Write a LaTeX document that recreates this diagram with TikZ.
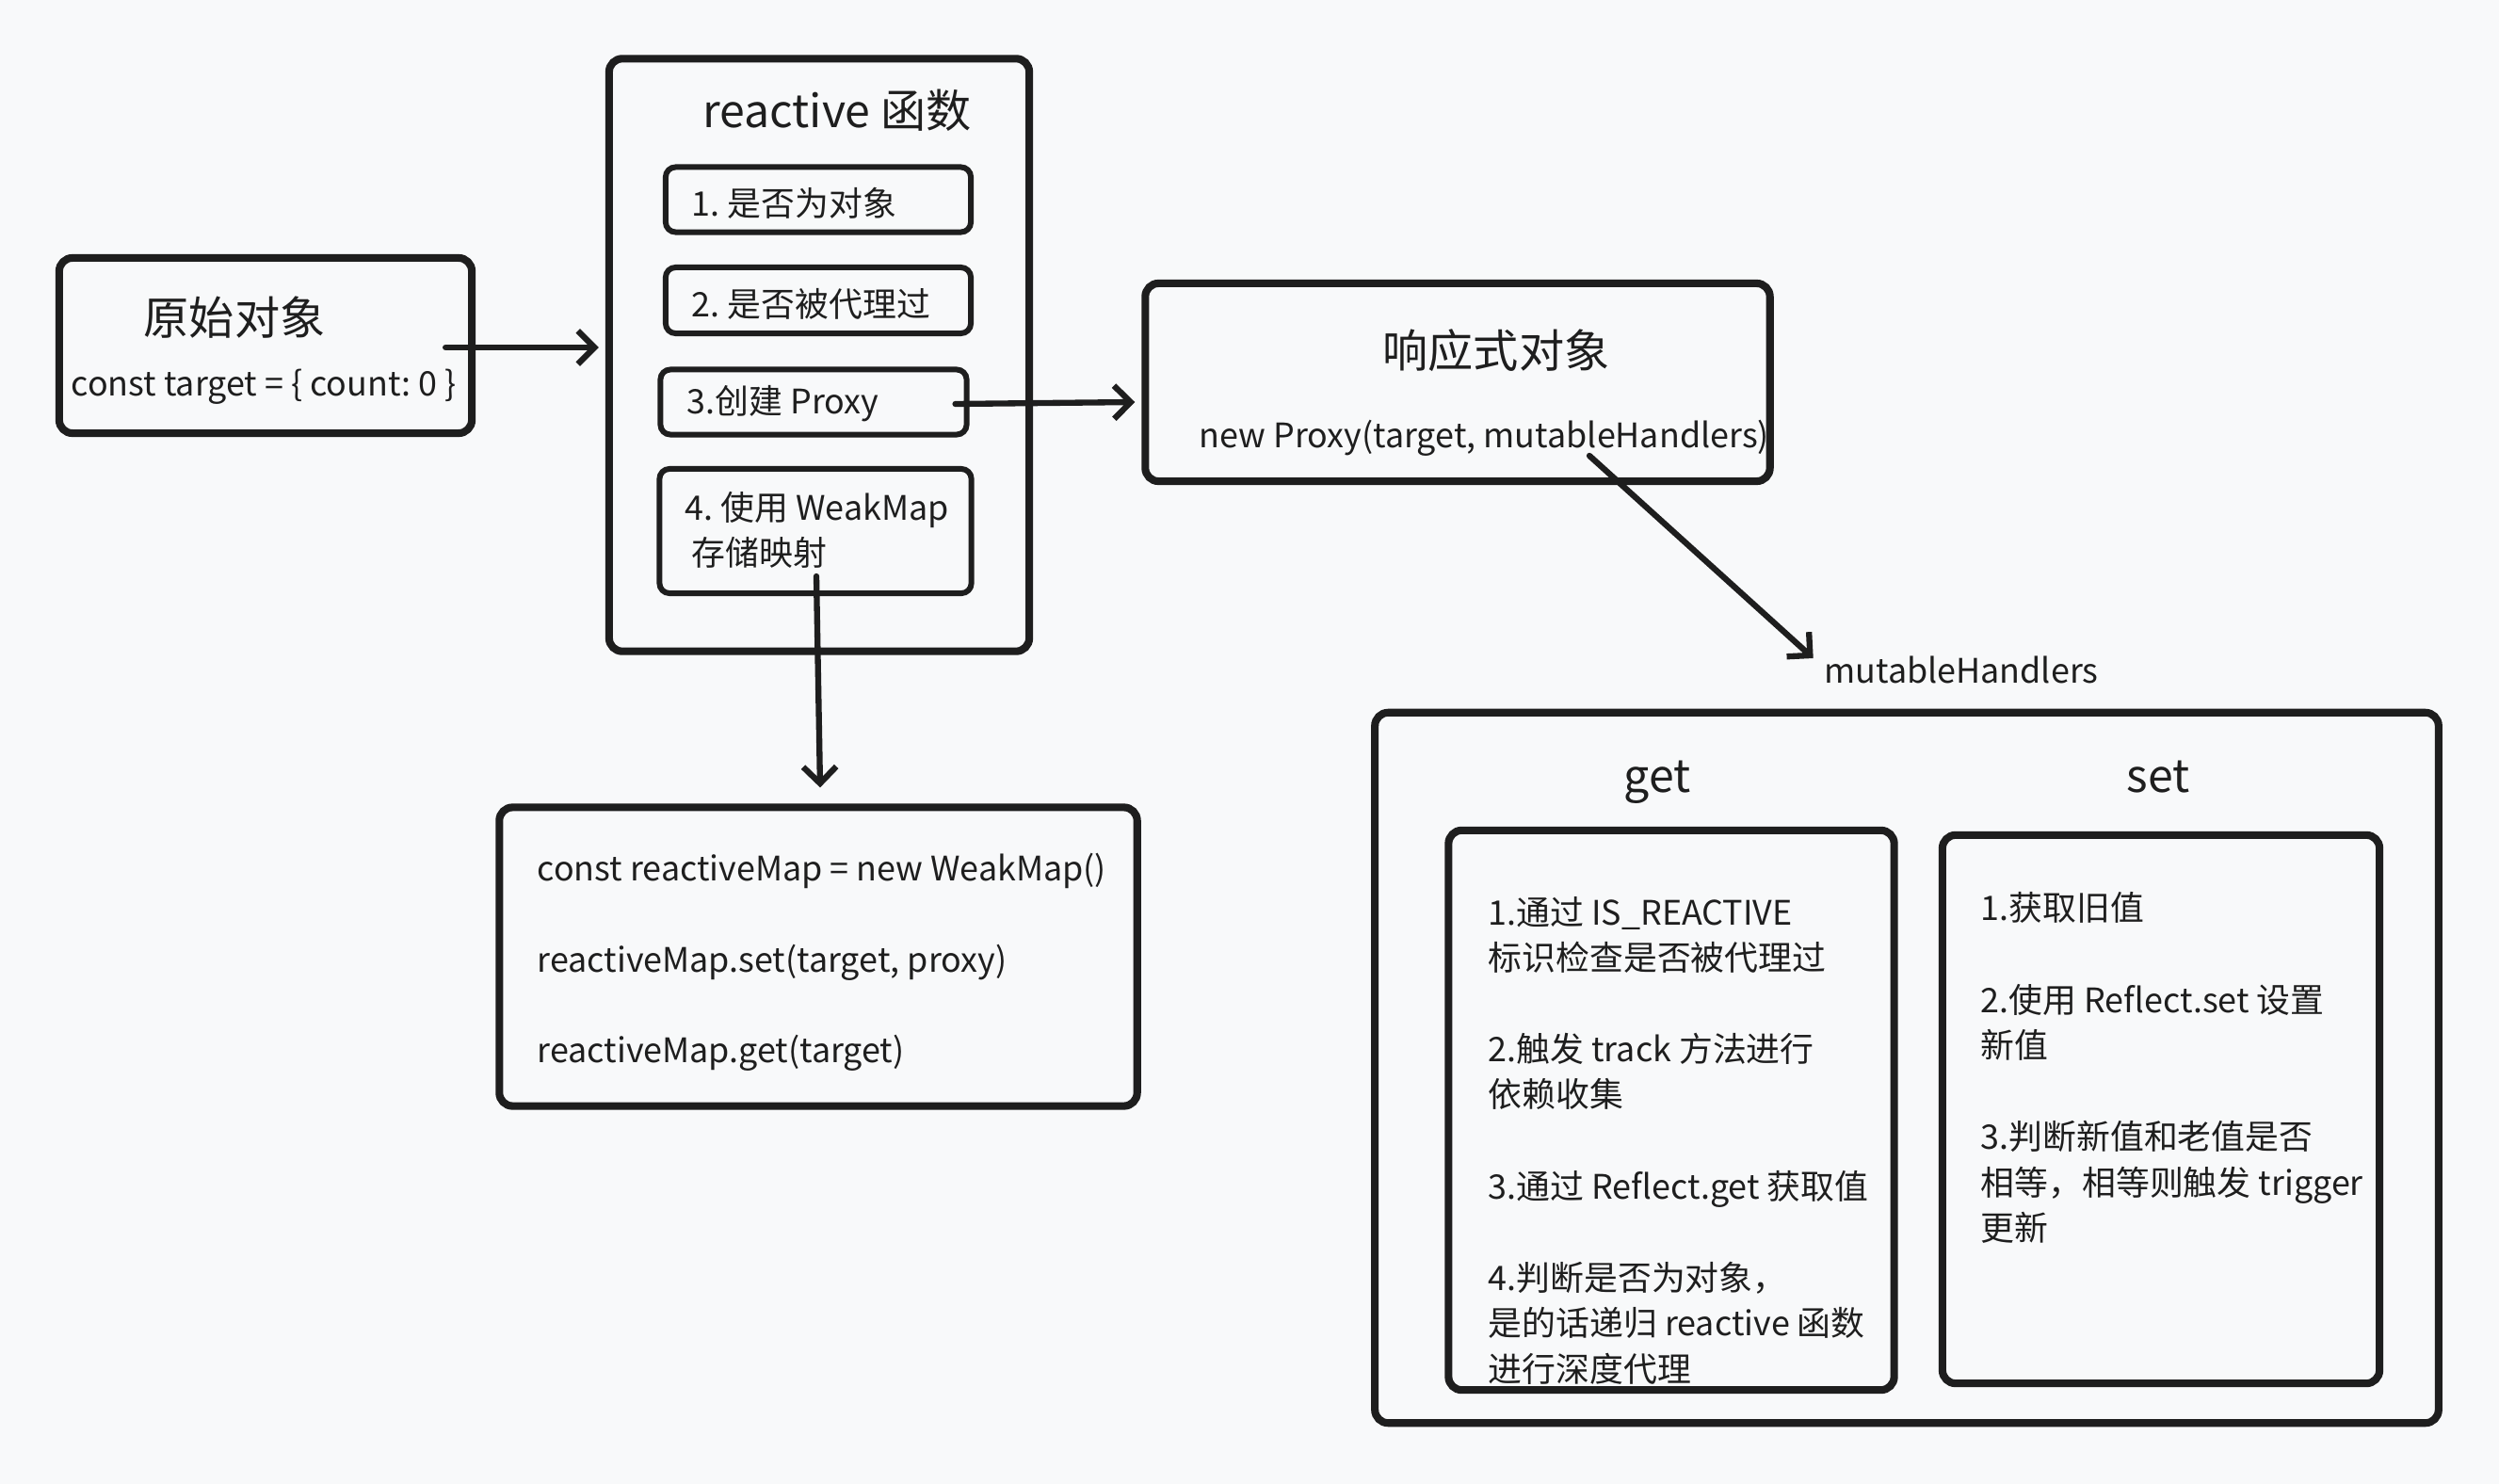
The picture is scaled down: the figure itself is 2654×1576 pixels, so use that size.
\documentclass[tikz,border=0pt]{standalone}
\usepackage{fontspec}
\setmainfont{Noto Sans CJK SC}
\usetikzlibrary{arrows.meta,positioning,calc}
\frenchspacing

\definecolor{ink}{HTML}{1E1E1E}
\definecolor{paper}{HTML}{F8F9FA}

\newcommand\bodyfont{\fontsize{10.2}{13.7}\selectfont}
\newcommand\headfont{\fontsize{13.7}{16.5}\selectfont}

\tikzset{
  outerbox/.style={draw=ink,line width=2.3pt,rounded corners=4pt,inner sep=0pt},
  stepbox/.style={draw=ink,line width=1.7pt,rounded corners=3pt,inner sep=0pt},
  txt/.style={font=\bodyfont,text=ink,inner sep=2pt},
  head/.style={font=\headfont,text=ink,inner sep=2pt},
  arrowline/.style={->,draw=ink,line width=1.8pt,line cap=round},
}

\begin{document}
\begin{tikzpicture}[x=0.01cm,y=-0.01cm,>={Straight Barb[length=5pt,width=10pt]}]

  % -- CANVAS --------------------------------------------------------
  \fill[paper] (0,0) rectangle (2654,1576);
  \useasboundingbox (0,0) rectangle (2654,1576);

  % -- ORIGINAL OBJECT ----------------------------------------------
  \node[outerbox,minimum width=4.38cm,minimum height=1.86cm] (orig) at (282,367) {};
  \node[head] (origT) at (249,337) {原始对象};
  \node[txt] (origC) at (280,411) {const target = \{ count: 0 \}};

  % -- REACTIVE FUNCTION --------------------------------------------
  \node[outerbox,minimum width=4.46cm,minimum height=6.29cm] (react) at (870,377) {};
  \node[head] (reactT) at (889,117) {reactive 函数};

  \node[stepbox,minimum width=3.24cm,minimum height=0.69cm] (s1) at (869,212) {};
  \node[stepbox,minimum width=3.24cm,minimum height=0.70cm] (s2) at (869,319) {};
  \node[stepbox,minimum width=3.25cm,minimum height=0.69cm] (s3) at (864,427) {};
  \node[stepbox,minimum width=3.31cm,minimum height=1.32cm] (s4) at (866,564) {};
  \node[txt,anchor=west] (s1T) at (727,216) {1. 是否为对象};
  \node[txt,anchor=west] (s2T) at (727,323) {2. 是否被代理过};
  \node[txt,anchor=west] (s3T) at (722,429) {3.创建 Proxy};
  \node[txt,anchor=west,align=left] (s4T) at (720,563) {4. 使用 WeakMap\\\hspace*{2pt}存储映射};

  % -- REACTIVE OBJECT ----------------------------------------------
  \node[outerbox,minimum width=6.63cm,minimum height=2.10cm] (resp) at (1548,406) {};
  \node[head] (respT) at (1589,372) {响应式对象};
  \node[txt,anchor=west] (respC) at (1266,465) {new Proxy(target, mutableHandlers)};

  % -- WEAKMAP -------------------------------------------------------
  \node[outerbox,minimum width=6.77cm,minimum height=3.17cm] (map) at (869,1016) {};
  \node[txt,anchor=west,align=left] (mapC) at (563,1022)
    {const reactiveMap = new WeakMap()\\[13.7pt]
     reactiveMap.set(target, proxy)\\[13.7pt]
     reactiveMap.get(target)};

  % -- HANDLERS ------------------------------------------------------
  \node[txt] (mh) at (2083,711) {mutableHandlers};
  \node[outerbox,minimum width=11.29cm,minimum height=7.54cm] (handlers) at (2025,1134) {};
  \node[head] (getT) at (1760,831) {get};
  \node[head] (setT) at (2292,825) {set};

  \node[outerbox,minimum width=4.73cm,minimum height=5.94cm] (getbox) at (1775,1179) {};
  \node[txt,anchor=west,align=left] (getC) at (1573,1211)
    {1.通过 IS\_REACTIVE\\标识检查是否被代理过\\[14pt]
     2.触发 track 方法进行\\依赖收集\\[14pt]
     3.通过 Reflect.get 获取值\\[14pt]
     4.判断是否为对象，\\是的话递归 reactive 函数\\进行深度代理};

  \node[outerbox,minimum width=4.64cm,minimum height=5.82cm] (setbox) at (2295,1178) {};
  \node[txt,anchor=west,align=left] (setC) at (2096,1134)
    {1.获取旧值\\[14pt]
     2.使用 Reflect.set 设置\\新值\\[14pt]
     3.判断新值和老值是否\\相等，相等则触发 trigger\\更新};

  % -- CONNECTORS ----------------------------------------------------
  \draw[arrowline] ($(orig.east)+(-32,2)$) -- ($(react.west)+(-7,-8)$);
  \draw[arrowline] ($(s3.east)+(-15,2)$) -- ($(resp.west)+(-7,21)$);
  \draw[arrowline] ($(s4.south)+(1,-21)$) -- ($(map.north)+(2,-17)$);
  \draw[arrowline] ($(resp.center)+(140,78)$) -- ($(mh.west)+(-4,-12)$);

\end{tikzpicture}
\end{document}
